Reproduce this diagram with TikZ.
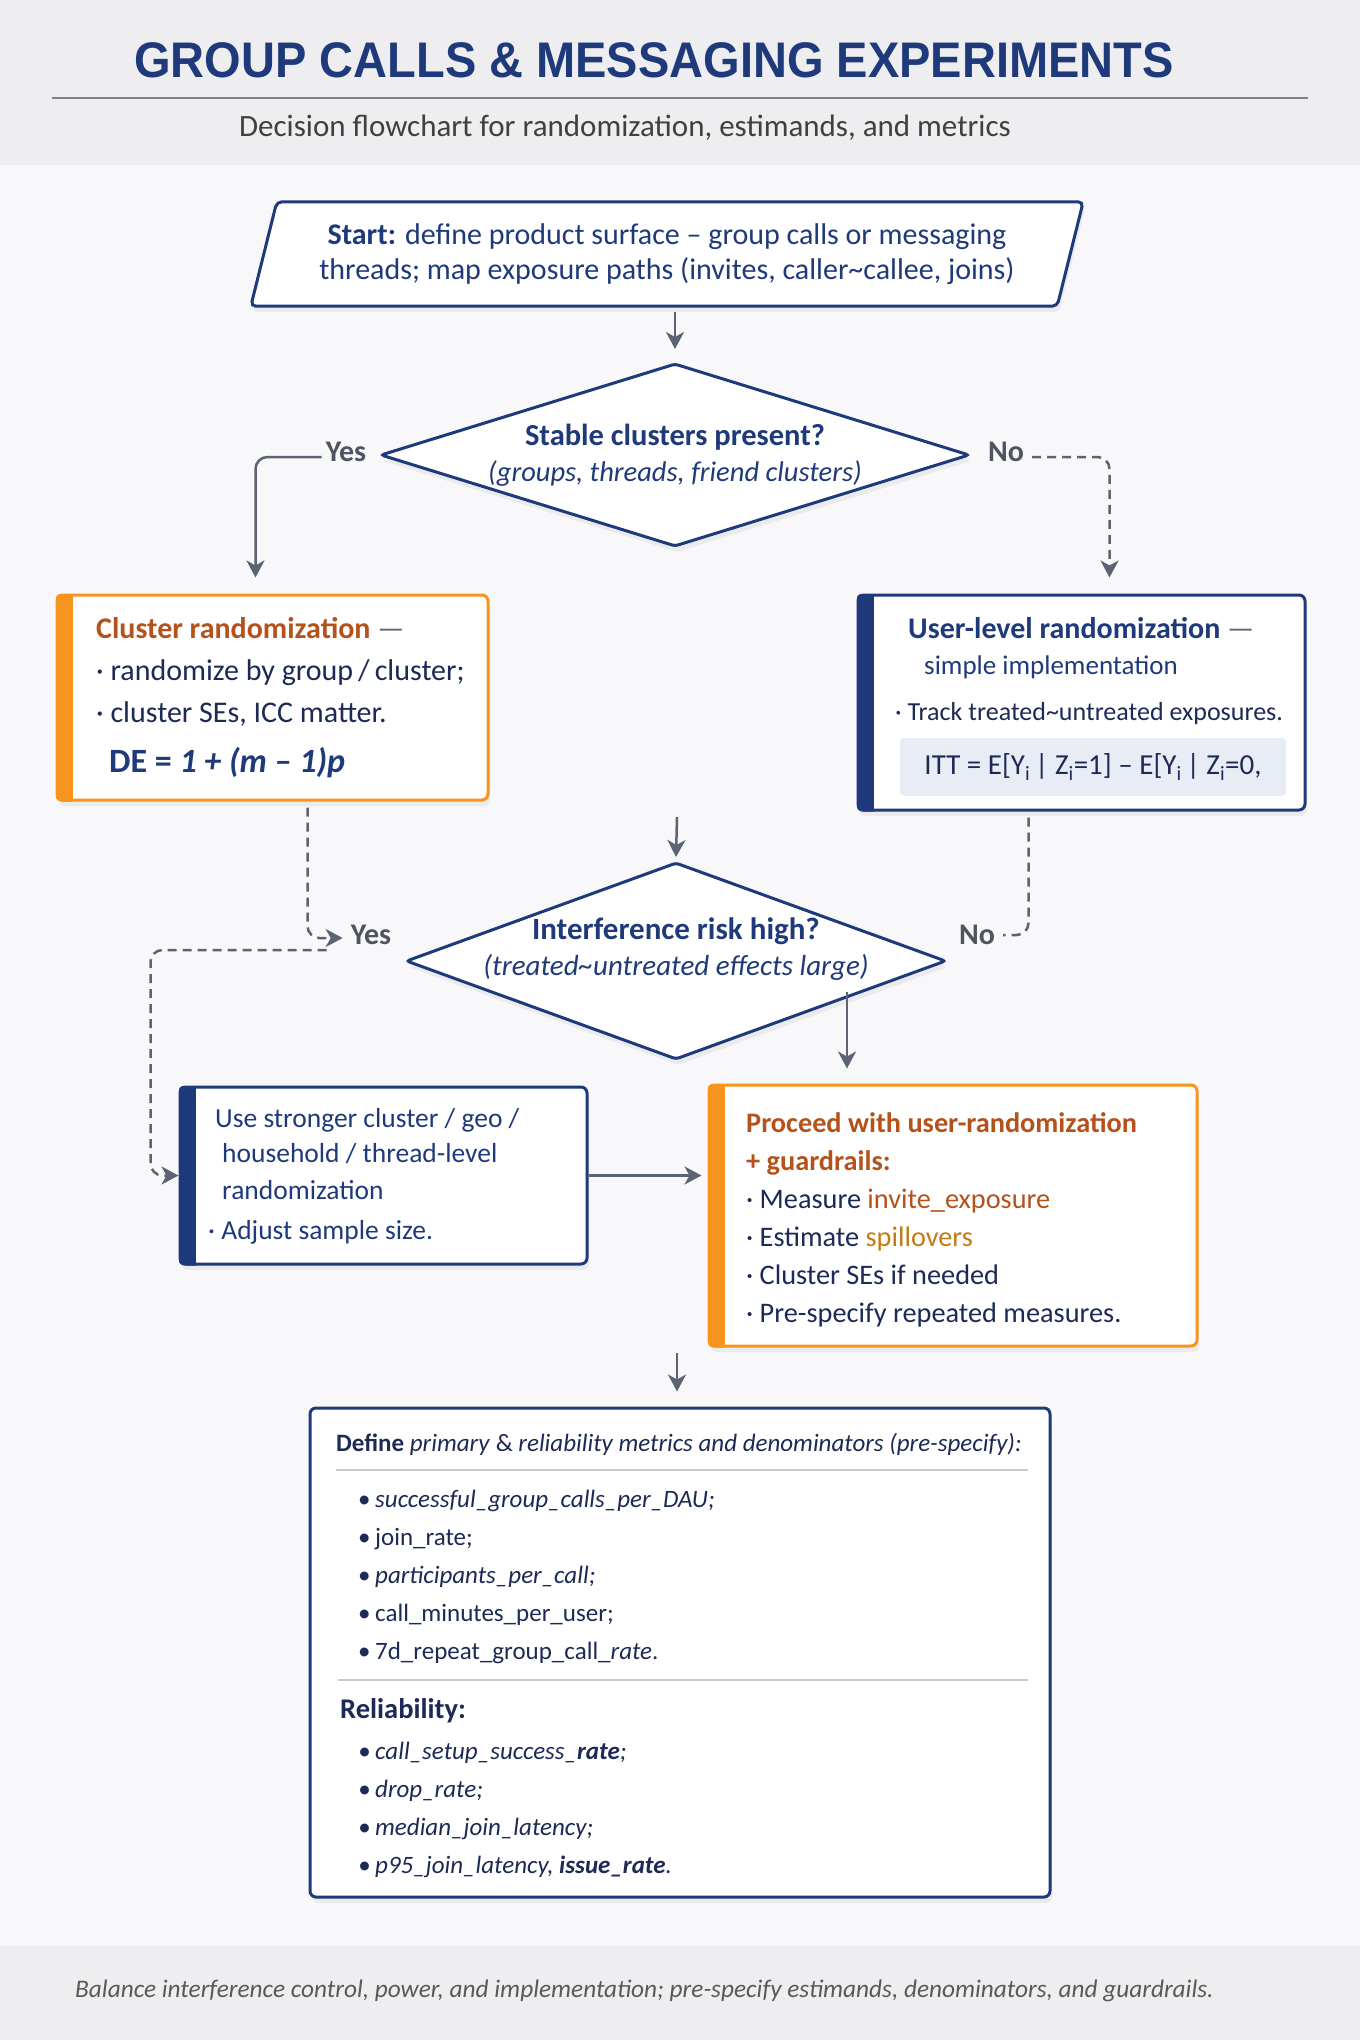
\documentclass[tikz,border=0pt]{standalone}
\usepackage{fontspec}
\setmainfont{Carlito}
\newfontfamily\headfont{Liberation Sans}
\usetikzlibrary{shapes.geometric,arrows.meta,shadows,positioning}
\definecolor{navy}{HTML}{1F3A7A}
\definecolor{ink}{HTML}{1C2A55}
\definecolor{orng}{HTML}{F7941D}
\definecolor{rust}{HTML}{B5521B}
\definecolor{gold}{HTML}{C27C17}
\definecolor{wire}{HTML}{5C6373}
\definecolor{paper}{HTML}{F8F8FA}
\definecolor{band}{HTML}{EEEEF0}
\definecolor{ittbg}{HTML}{E8EDF5}
\definecolor{rulegray}{HTML}{C5C9D2}
\newcommand\dotitem[1]{\makebox[17pt][l]{•}#1}
\newcommand\sidebar[2]{%
  \begin{scope}
    \clip[rounded corners=6pt] (#1.north west) rectangle (#1.south east);
    \fill[#2] (#1.north west) rectangle ([xshift=17pt]#1.south west);
  \end{scope}}
\tikzset{
  box/.style={draw, line width=3pt, rounded corners=6pt, fill=white,
    drop shadow={shadow xshift=2pt, shadow yshift=-6pt, opacity=0.10}},
  orbox/.style={box, draw=orng},
  nvbox/.style={box, draw=navy},
  decision/.style={diamond, draw=navy, line width=3pt, fill=white, inner sep=0pt,
    rounded corners=3pt, drop shadow={shadow xshift=2pt, shadow yshift=-6pt, opacity=0.10}},
  flow/.style={draw=wire, line width=2.5pt, rounded corners=12pt,
    -{Stealth[length=17pt,width=18pt,inset=5pt]}},
  dashflow/.style={flow, dash pattern=on 9pt off 6pt},
  txt/.style={text=ink, font=\fontsize{30}{42}\selectfont, align=left, inner sep=0pt},
  lbl/.style={text=wire!85!black, font=\fontsize{30}{34}\selectfont\bfseries, inner sep=0pt},
}
\begin{document}
\begin{tikzpicture}[x=1pt, y=-1pt]
\useasboundingbox (0,0) rectangle (1360,2040);
\fill[paper] (0,0) rectangle (1360,2040);
\fill[band] (0,0) rectangle (1360,165);
\fill[band] (0,1946) rectangle (1360,2040);

% header
\node[text=navy, font=\headfont\bfseries\fontsize{50}{54}\selectfont, inner sep=0pt] (title) at (654,60) {\scalebox{0.94}[1]{GROUP CALLS \& MESSAGING EXPERIMENTS}};
\draw[line width=1.5pt, draw=wire!80] (52,98) -- (1308,98);
\node[text=black!75, font=\fontsize{31}{34}\selectfont, inner sep=0pt] (subtitle) at (625,128) {Decision flowchart for randomization, estimands, and metrics};

% start
\node[minimum width=806pt, minimum height=104pt, inner sep=0pt] (start) at (667,254) {};
\draw[navy, line width=3pt, rounded corners=5pt, fill=white,
  drop shadow={shadow xshift=2pt, shadow yshift=-6pt, opacity=0.10}]
  ([xshift=-13pt]start.south west) -- ([xshift=13pt]start.north west)
  -- ([xshift=13pt]start.north east) -- ([xshift=-13pt]start.south east) -- cycle;
\node[txt, align=center, text=navy, font=\fontsize{30}{35}\selectfont] (start-t) at (start.center)
  {\textbf{Start:} define product surface – group calls or messaging\\
   threads; map exposure paths (invites, caller\textasciitilde callee, joins)};

% first decision
\node[decision, minimum width=589pt, minimum height=183pt] (d1) at (675,455) {};
\node[txt, align=center, text=navy, font=\fontsize{28.5}{36}\selectfont] (d1-t) at (d1.center)
  {{\fontsize{30.5}{36}\selectfont\bfseries Stable clusters present?}\\ \textit{(groups, threads, friend clusters)}};
\node[lbl] (yes1) at (346,452) {Yes};
\node[lbl] (no1) at (1006,452) {No};

% cluster randomization
\node[orbox, minimum width=431pt, minimum height=205pt] (clu) at (272.5,697.5) {};
\sidebar{clu}{orng}
\node[txt, anchor=base west] (clu-t) at (96,772)
  {\textcolor{rust}{\textbf{Cluster randomization}} \textcolor{wire}{—}\\
   · randomize by group\,/\,cluster;\\
   · cluster SEs, ICC matter.\\[8pt]
   \hspace{13pt}{\fontsize{34}{40}\selectfont\bfseries\color{navy}DE = \textit{1 + (m – 1)p}}};

% user-level randomization
\node[nvbox, minimum width=447pt, minimum height=215pt] (usr) at (1081.5,702.5) {};
\sidebar{usr}{navy}
\node[txt, anchor=base west] (usr-t) at (895,720)
  {\hspace{13pt}\textcolor{navy}{\textbf{User-level randomization}} \textcolor{wire}{—}\\[-6pt]
   \hspace{29pt}{\fontsize{27}{42}\selectfont\color{navy}simple implementation}\\[4pt]
   {\fontsize{26}{42}\selectfont · Track treated\textasciitilde untreated exposures.}};
\node[fill=ittbg, rounded corners=4pt, minimum width=386pt, minimum height=58pt, inner sep=0pt,
  text=ink, font=\fontsize{29}{32}\selectfont] (itt) at (1093,767)
  {ITT = E[Y\textsubscript{i}\,| Z\textsubscript{i}=1] – E[Y\textsubscript{i}\,| Z\textsubscript{i}=0,};

% second decision
\node[decision, minimum width=540pt, minimum height=197pt] (d2) at (676,961) {};
\node[txt, align=center, text=navy, font=\fontsize{29}{36}\selectfont] (d2-t) at ([yshift=12pt]d2.center)
  {{\fontsize{31}{36}\selectfont\bfseries Interference risk high?}\\ \textit{(treated\textasciitilde untreated effects large)}};
\node[lbl] (yes2) at (371,935) {Yes};
\node[lbl] (no2) at (977,935) {No};
\coordinate (merge1) at (677,817);
\coordinate (d2out) at (847,992);

% stronger clustering
\node[nvbox, minimum width=407pt, minimum height=177pt] (str) at (383.5,1175.5) {};
\sidebar{str}{navy}
\node[txt, anchor=base west, text=navy, font=\fontsize{27.5}{42}\selectfont] (str-t) at (208,1239)
  {\hspace{7pt}Use stronger cluster / geo /\\[-7pt]
   \hspace{14pt}household / thread-level\\[-5pt]
   \hspace{14pt}randomization\\[-2pt]
   · Adjust sample size.};

% proceed with guardrails
\node[orbox, minimum width=488pt, minimum height=261pt] (prc) at (953,1215.5) {};
\sidebar{prc}{orng}
\node[txt, anchor=base west, font=\fontsize{28.3}{38}\selectfont] (prc-t) at (746,1322)
  {\textcolor{rust}{\textbf{Proceed with user-randomization}}\\
   \textcolor{rust}{\textbf{+ guardrails:}}\\
   · Measure \textcolor{rust}{invite\_exposure}\\
   · Estimate \textcolor{gold}{spillovers}\\
   · Cluster SEs if needed\\
   · Pre-specify repeated measures.};
\coordinate (merge2) at (677,1353);

% metrics
\node[box, draw=navy, minimum width=740pt, minimum height=489pt] (met) at (680,1652.5) {};
\node[txt, anchor=base west, font=\fontsize{25}{38}\selectfont] (met-h) at (336,1451)
  {\textbf{Define} \textit{primary} \& \textit{reliability metrics and denominators (pre-specify):}};
\draw[rulegray, line width=1.5pt] (336,1470) -- (1028,1470);
\node[txt, anchor=base west, font=\fontsize{25}{38}\selectfont] (met-a) at (358,1659)
  {\dotitem{\textit{successful\_group\_calls\_per\_DAU;}}\\
   \dotitem{join\_rate;}\\
   \dotitem{\textit{participants\_per\_call;}}\\
   \dotitem{call\_minutes\_per\_user;}\\
   \dotitem{7d\_repeat\_group\_call\_\textit{rate}.}};
\draw[rulegray, line width=1.5pt] (338,1680) -- (1028,1680);
\node[txt, anchor=base west, font=\fontsize{28.5}{32}\selectfont\bfseries] (met-r) at (340,1718) {Reliability:};
\node[txt, anchor=base west, font=\fontsize{25}{38}\selectfont\itshape] (met-b) at (358,1873)
  {\dotitem{call\_setup\_success\_\textbf{rate};}\\
   \dotitem{drop\_rate;}\\
   \dotitem{median\_join\_latency;}\\
   \dotitem{p95\_join\_latency, \textbf{issue\_rate}.}};

% footer
\node[anchor=west, inner sep=0pt, text=black!65, font=\fontsize{25.3}{28}\selectfont\itshape] (foot) at (75,1991)
  {Balance interference control, power, and implementation; pre-specify estimands, denominators, and guardrails.};

% connectors
\draw[flow] ([yshift=-6pt]d1.north |- start.south) -- ([yshift=13pt]d1.north);
\draw[flow] ([xshift=-4pt,yshift=-5pt]yes1.west) -| ([xshift=-17pt,yshift=16pt]clu.north);
\draw[dashflow] ([xshift=8pt,yshift=-5pt]no1.east) -| ([xshift=28pt,yshift=16pt]usr.north);
\draw[flow] (merge1) -- ([yshift=4pt]d2.north);
\draw[dashflow] ([xshift=35pt,yshift=-6pt]clu.south) |- ([xshift=-8pt,yshift=-3pt]yes2.west);
\draw[dashflow] ([xshift=-24pt,yshift=-15pt]yes2.west) -| ([xshift=-28pt]str.west) -- (str.west);
\draw[dashflow, -] ([xshift=-53pt,yshift=-6pt]usr.south) |- ([xshift=8pt]no2.east);
\draw[flow] (d2out) -- ([yshift=15pt]d2out |- prc.north);
\draw[flow] (str.east) -- ([xshift=-6pt]str.east -| prc.west);
\draw[flow] (merge2) -- ([yshift=15pt]merge2 |- met.north);
\end{tikzpicture}
\end{document}
